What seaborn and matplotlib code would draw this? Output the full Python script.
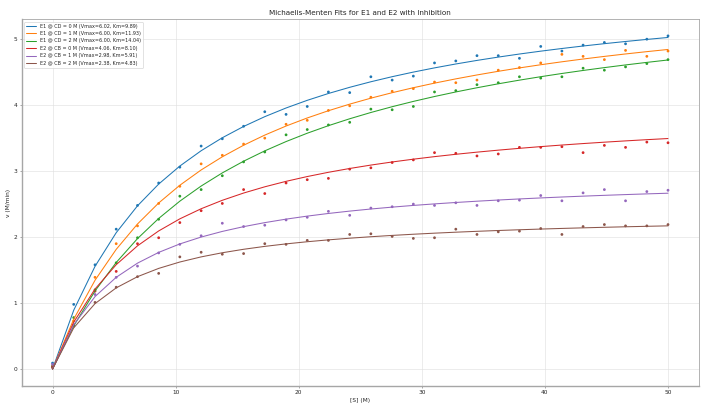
import numpy as np
import pandas as pd
import matplotlib
matplotlib.use('Agg')
import matplotlib.pyplot as plt
import seaborn as sns

# substrate concentrations (30 points from 0 to 50)
s_conc = [0.00, 1.72, 3.45, 5.17, 6.90, 8.62, 10.34, 12.07, 13.79, 15.52,
          17.24, 18.97, 20.69, 22.41, 24.14, 25.86, 27.59, 29.31, 31.03, 32.76,
          34.48, 36.21, 37.93, 39.66, 41.38, 43.10, 44.83, 46.55, 48.28, 50.00]

v_e1_cd0 = [0.09, 0.98, 1.58, 2.12, 2.48, 2.82, 3.06, 3.38, 3.49, 3.68, 3.90, 3.86, 3.98, 4.20, 4.19,
            4.43, 4.38, 4.44, 4.64, 4.67, 4.75, 4.75, 4.71, 4.89, 4.82, 4.91, 4.95, 4.93, 5.00, 5.05]
v_e1_cd1 = [0.05, 0.73, 1.39, 1.90, 2.17, 2.51, 2.77, 3.11, 3.24, 3.41, 3.50, 3.71, 3.77, 3.92, 3.99,
            4.12, 4.21, 4.25, 4.35, 4.34, 4.38, 4.53, 4.57, 4.64, 4.77, 4.74, 4.69, 4.83, 4.74, 4.82]
v_e1_cd2 = [0.04, 0.78, 1.20, 1.61, 1.99, 2.27, 2.62, 2.72, 2.93, 3.14, 3.29, 3.55, 3.63, 3.70, 3.74,
            3.94, 3.93, 3.98, 4.20, 4.22, 4.31, 4.34, 4.43, 4.41, 4.43, 4.56, 4.53, 4.58, 4.63, 4.69]
v_e2_cb0 = [0.03, 0.67, 1.18, 1.48, 1.90, 1.99, 2.22, 2.40, 2.51, 2.72, 2.66, 2.82, 2.87, 2.89, 3.03,
            3.05, 3.13, 3.17, 3.28, 3.27, 3.23, 3.26, 3.36, 3.36, 3.37, 3.28, 3.39, 3.36, 3.44, 3.43]
v_e2_cb1 = [0.07, 0.66, 1.13, 1.39, 1.56, 1.76, 1.89, 2.02, 2.21, 2.16, 2.18, 2.26, 2.30, 2.39, 2.33,
            2.44, 2.46, 2.50, 2.48, 2.52, 2.48, 2.55, 2.56, 2.63, 2.55, 2.67, 2.72, 2.55, 2.69, 2.71]
v_e2_cb2 = [0.02, 0.65, 1.01, 1.24, 1.40, 1.45, 1.70, 1.77, 1.74, 1.75, 1.90, 1.89, 1.95, 1.95, 2.04,
            2.05, 2.01, 1.98, 1.99, 2.12, 2.04, 2.08, 2.09, 2.13, 2.04, 2.16, 2.19, 2.17, 2.17, 2.19]

# fitted parameters shown in the legend
series_names = ['E1 @ CD = 0 M', 'E1 @ CD = 1 M', 'E1 @ CD = 2 M',
                'E2 @ CB = 0 M', 'E2 @ CB = 1 M', 'E2 @ CB = 2 M']
vmax_fit = [6.02, 6.00, 6.00, 4.06, 2.98, 2.38]
km_fit = [9.89, 11.93, 14.04, 8.10, 5.91, 4.83]

measured = [v_e1_cd0, v_e1_cd1, v_e1_cd2, v_e2_cb0, v_e2_cb1, v_e2_cb2]

rows = []
for name, vm, km, vals in zip(series_names, vmax_fit, km_fit, measured):
    label = f'{name} (Vmax={vm:.2f}, Km={km:.2f})'
    for s, v in zip(s_conc, vals):
        rows.append({'S': s, 'v': v, 'fit': vm * s / (km + s), 'label': label})
df = pd.DataFrame(rows)

sns.set_style('whitegrid', {'xtick.bottom': True, 'ytick.left': True,
                            'axes.edgecolor': '0.65', 'grid.color': '0.87'})
plt.rcParams['font.family'] = ['DejaVu Sans']

fig, ax = plt.subplots(figsize=(14.06, 8.18), dpi=50)
fig.subplots_adjust(left=0.031, right=0.994, bottom=0.057, top=0.953)

palette = sns.color_palette('tab10', 6)
sns.lineplot(ax=ax, data=df, x='S', y='fit', hue='label', palette=palette, linewidth=1.5)
sns.scatterplot(ax=ax, data=df, x='S', y='v', hue='label', palette=palette,
                s=16, linewidth=0, legend=False)

ax.spines['left'].set_linewidth(2)
ax.spines['bottom'].set_linewidth(2)
ax.spines['top'].set_linewidth(1.2)
ax.spines['right'].set_linewidth(1.2)

ax.tick_params(labelsize=8.5, length=3, color='0.4')
ax.set_xlabel('[S] (M)', fontsize=8.5)
ax.set_ylabel('v (M/min)', fontsize=8.5)
ax.set_title('Michaelis-Menten Fits for E1 and E2 with Inhibition', fontsize=10.5)
ax.legend(loc='upper left', fontsize=7, title=None, frameon=True)

plt.savefig('out.png', dpi=50)
plt.close()
